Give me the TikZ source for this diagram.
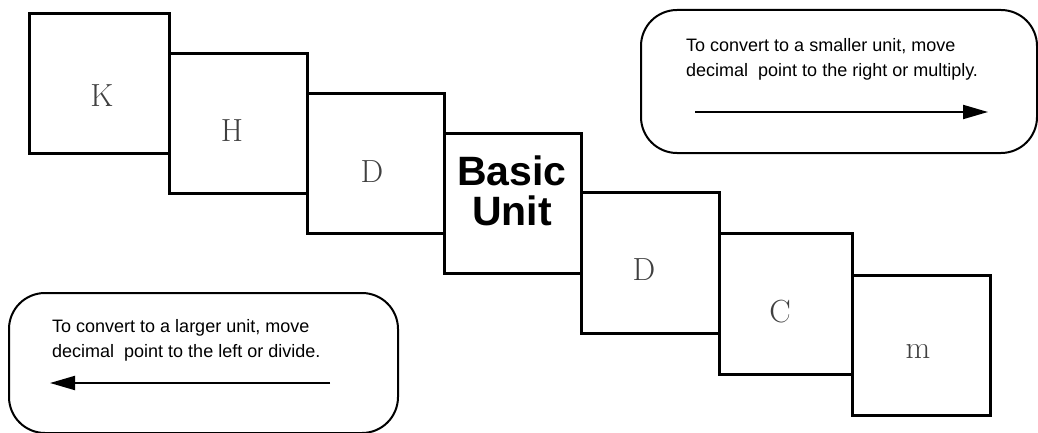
\documentclass[tikz,border=0pt]{standalone}
\usepackage{fontspec}
\setsansfont{Liberation Sans}
\usetikzlibrary{arrows.meta}
\begin{document}
\begin{tikzpicture}[x=1pt,y=-1pt,
  unitbox/.style={draw, line width=3pt, inner sep=0pt, anchor=north west},
  hand/.style={font=\rmfamily\fontsize{32}{32}\selectfont, text=black!75, inner sep=0pt},
  notebox/.style={draw, line width=2pt, rounded corners=36pt, inner sep=0pt, anchor=north west},
  notetext/.style={font=\sffamily\fontsize{18}{25}\selectfont, align=left, inner sep=0pt, anchor=north west},
  notearrow/.style={line width=2pt, -{Triangle[length=25pt,width=14pt]}}
]
\useasboundingbox (0,0) rectangle (1038,433);
% unit boxes
\node[unitbox, minimum width=140pt, minimum height=140pt] (bk) at (28,12) {};
\node[unitbox, minimum width=138pt, minimum height=140pt] (bh) at (168,52) {};
\node[unitbox, minimum width=137pt, minimum height=140pt] (bd) at (306,92) {};
\node[unitbox, minimum width=137pt, minimum height=140pt] (bb) at (443,132) {};
\node[unitbox, minimum width=138pt, minimum height=141pt] (bd2) at (580,191) {};
\node[unitbox, minimum width=133pt, minimum height=141pt] (bc) at (718,232) {};
\node[unitbox, minimum width=138pt, minimum height=140pt] (bm) at (851,274) {};
% letters
\node[hand] (lk) at (102,96) {K};
\node[hand] (lh) at (232,131) {H};
\node[hand] (ld) at (372,172) {D};
\node[hand] (ld2) at (644,270) {D};
\node[hand] (lc) at (780,312) {C};
\node[hand] (lm) at (918,351) {m};
\node[font=\sffamily\bfseries\fontsize{41}{40}\selectfont, align=center, inner sep=0pt] (basic) at (512,191) {Basic\\Unit};
% note boxes
\node[notebox, minimum width=396pt, minimum height=143pt] (nr) at (640,9) {};
\node[notebox, minimum width=389pt, minimum height=140pt] (nl) at (8,292) {};
\node[notetext] (tr) at (686,38) {To convert to a smaller unit, move\\decimal\ \ point to the right or multiply.};
\node[notetext] (tl) at (52,319) {To convert to a larger unit, move\\decimal\ \ point to the left or divide.};
\coordinate (ars) at (695,112);
\coordinate (are) at (988,112);
\coordinate (als) at (330,383);
\coordinate (ale) at (50,383);
\draw[notearrow] (ars) -- (are);
\draw[notearrow] (als) -- (ale);
\end{tikzpicture}
\end{document}
